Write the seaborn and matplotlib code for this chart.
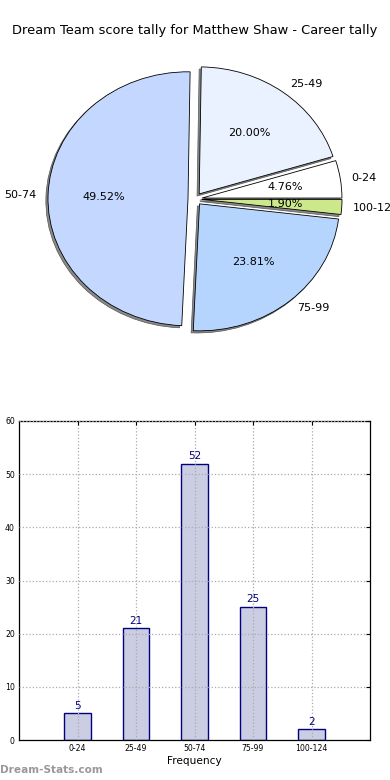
import pandas as pd
import seaborn as sns

import matplotlib
matplotlib.use('Agg')
import matplotlib.pyplot as plt

# score bands and how many times each came up
bands = ["0-24", "25-49", "50-74", "75-99", "100-124"]
counts = [5, 21, 52, 25, 2]
pie_colors = ["#ffffff", "#eaf2ff", "#c4d8ff", "#b5d5ff", "#cce88a"]

title = "Dream Team score tally for Matthew Shaw - Career tally"

df = pd.DataFrame({"band": bands, "count": counts})

sns.set_style("white")
plt.rcParams['font.family'] = ['DejaVu Sans']
plt.rcParams['text.color'] = 'black'
plt.rcParams['xtick.color'] = 'black'
plt.rcParams['ytick.color'] = 'black'
plt.rcParams['axes.labelcolor'] = 'black'

fig = plt.figure(figsize=(3.9, 7.8), dpi=100)
fig.text(0.5, 0.9615, title, ha="center", va="center", fontsize=9.4)

# pie: stretched like the old non-equal aspect pies
ax_pie = fig.add_axes([0.0, 1 - 356 / 780, 1.0, 316 / 780])
wedges, texts, autotexts = ax_pie.pie(
    df["count"], labels=df["band"], colors=pie_colors,
    explode=[0.05] * len(bands), autopct="%1.2f%%",
    labeldistance=1.08,
    shadow={"ox": -0.011, "oy": -0.012, "facecolor": "#8a8a8a",
            "edgecolor": "#555555", "alpha": 1.0, "linewidth": 0.5},
    wedgeprops={"edgecolor": "black", "linewidth": 0.6},
    textprops={"fontsize": 8, "color": "black"})
ax_pie.set_aspect("auto")
ax_pie.set_xlim(-195 / 140, 195 / 140)
ax_pie.set_ylim(-157 / 127, 159 / 127)
ax_pie.axis("off")
for p in ax_pie.patches:
    p.set_clip_on(False)

# bar chart
ax = fig.add_axes([19 / 390, 40 / 780, 351 / 390, 319 / 780])
sns.barplot(x="band", y="count", data=df, ax=ax, color="#cbcde3",
            edgecolor="#000080", linewidth=1.0, width=0.45,
            saturation=1)
for i, c in enumerate(counts):
    ax.text(i, c + 0.5, str(c), ha="center", va="bottom",
            fontsize=7.5, color="#000080")
ax.set_xlim(-1, 5)
ax.set_ylim(0, 60)
ax.set_yticks(range(0, 61, 10))
ax.set_xlabel("Frequency", fontsize=7.6, labelpad=2)
ax.set_ylabel("")
ax.tick_params(axis="both", labelsize=5.6, direction="in", top=True,
               right=True, length=3, pad=3)
ax.set_axisbelow(False)
ax.grid(True, linestyle=":", color="#aaaaaa", linewidth=0.9)
for s in ax.spines.values():
    s.set_edgecolor("black")
    s.set_linewidth(0.9)

fig.text(0.0, 0.007, "Dream-Stats.com", fontsize=7.6, color="#999999",
         fontweight="bold", ha="left", va="bottom")

fig.savefig("out.png", dpi=100)
plt.close()
